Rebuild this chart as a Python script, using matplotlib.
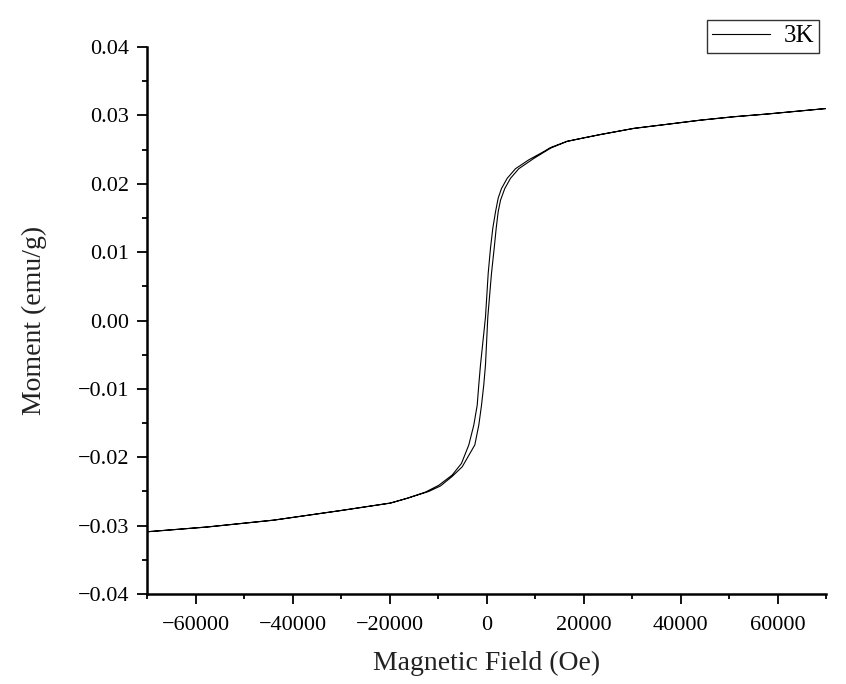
import matplotlib
matplotlib.use("Agg")
import matplotlib.pyplot as plt
from matplotlib.ticker import MultipleLocator, FuncFormatter

plt.rcParams['font.family'] = ['Liberation Serif', 'DejaVu Serif']

# descending branch (+70 kOe -> -70 kOe)
h_down = [70000, 57900, 51000, 44100, 37300, 30400, 23500, 20000, 16600, 13200,
          11800, 8720, 5980, 4270, 3090, 2410, 1860, 1300, 825, 350,
          -210, -1240, -1590, -1920, -2620, -3650, -5160, -7070, -9840, -12600,
          -16350, -19800, -30100, -43900, -57600, -70000]
m_down = [0.0310, 0.0302, 0.0298, 0.0293, 0.0287, 0.0281, 0.0272, 0.0267, 0.0262, 0.0253,
          0.0247, 0.0235, 0.0222, 0.0208, 0.0193, 0.0179, 0.0159, 0.0135, 0.0106, 0.0069,
          0.0005, -0.0065, -0.0094, -0.0124, -0.0153, -0.0182, -0.0209, -0.0226, -0.0241, -0.0251,
          -0.0260, -0.0267, -0.0278, -0.0292, -0.0302, -0.0309]

# ascending branch (-70 kOe -> +70 kOe)
h_up = [-70000, -57600, -43900, -30100, -19800, -16350, -11900, -9490, -7070, -5010,
        -2410, -1590, -1030, -560, -210, 270, 1030, 1590, 2000, 2410,
        2890, 3770, 4950, 6660, 9750, 13200, 16600, 20000, 23500, 30400,
        37300, 44100, 51000, 57900, 70000]
m_up = [-0.0309, -0.0302, -0.0292, -0.0278, -0.0267, -0.0260, -0.0250, -0.0242, -0.0228, -0.0214,
        -0.0182, -0.0153, -0.0124, -0.0094, -0.0065, 0.0005, 0.0069, 0.0106, 0.0135, 0.0159,
        0.0176, 0.0193, 0.0208, 0.0222, 0.0237, 0.0252, 0.0262, 0.0267, 0.0272, 0.0281,
        0.0287, 0.0293, 0.0298, 0.0302, 0.0310]

h_loop = h_down + h_up
m_loop = m_down + m_up

fig = plt.figure(figsize=(8.46, 6.84), dpi=100)
ax = fig.add_axes([147/846, 90/684, 679/846, 547/684])

ax.plot(h_loop, m_loop, color='black', linewidth=0.8, label='3K')

ax.set_xlim(-70000, 70000)
ax.set_ylim(-0.04, 0.04)

ax.xaxis.set_major_locator(MultipleLocator(20000))
ax.xaxis.set_minor_locator(MultipleLocator(10000))
ax.yaxis.set_major_locator(MultipleLocator(0.01))
ax.yaxis.set_minor_locator(MultipleLocator(0.005))


def fmt_y(v, pos):
    s = f"{v:.2f}"
    if s == "-0.00":
        s = "0.00"
    return s.replace('-', '\u2212')


def fmt_x(v, pos):
    return f"{v:.0f}".replace('-', '\u2212')


ax.yaxis.set_major_formatter(FuncFormatter(fmt_y))
ax.xaxis.set_major_formatter(FuncFormatter(fmt_x))

for side in ['top', 'right']:
    ax.spines[side].set_visible(False)
for side in ['left', 'bottom']:
    ax.spines[side].set_linewidth(1.8)

ax.tick_params(which='major', direction='out', length=7, width=1.3, labelsize=16, pad=6)
ax.tick_params(which='minor', direction='out', length=3.5, width=1.3)
ax.tick_params(axis='x', which='major', pad=9)

ax.set_xlabel('Magnetic Field (Oe)', fontsize=20, color='#222222', labelpad=11)
ax.set_ylabel('Moment (emu/g)', fontsize=20, color='#222222', labelpad=22)

leg = ax.legend(loc='upper right', bbox_to_anchor=(819/846, 1 - 20/684),
                bbox_transform=fig.transFigure, fontsize=18, frameon=True,
                fancybox=False, edgecolor='black', borderaxespad=0,
                handlelength=2.3, handletextpad=0.55, borderpad=0.2)
leg.get_frame().set_linewidth(1.0)

fig.savefig('out.png', dpi=100)
